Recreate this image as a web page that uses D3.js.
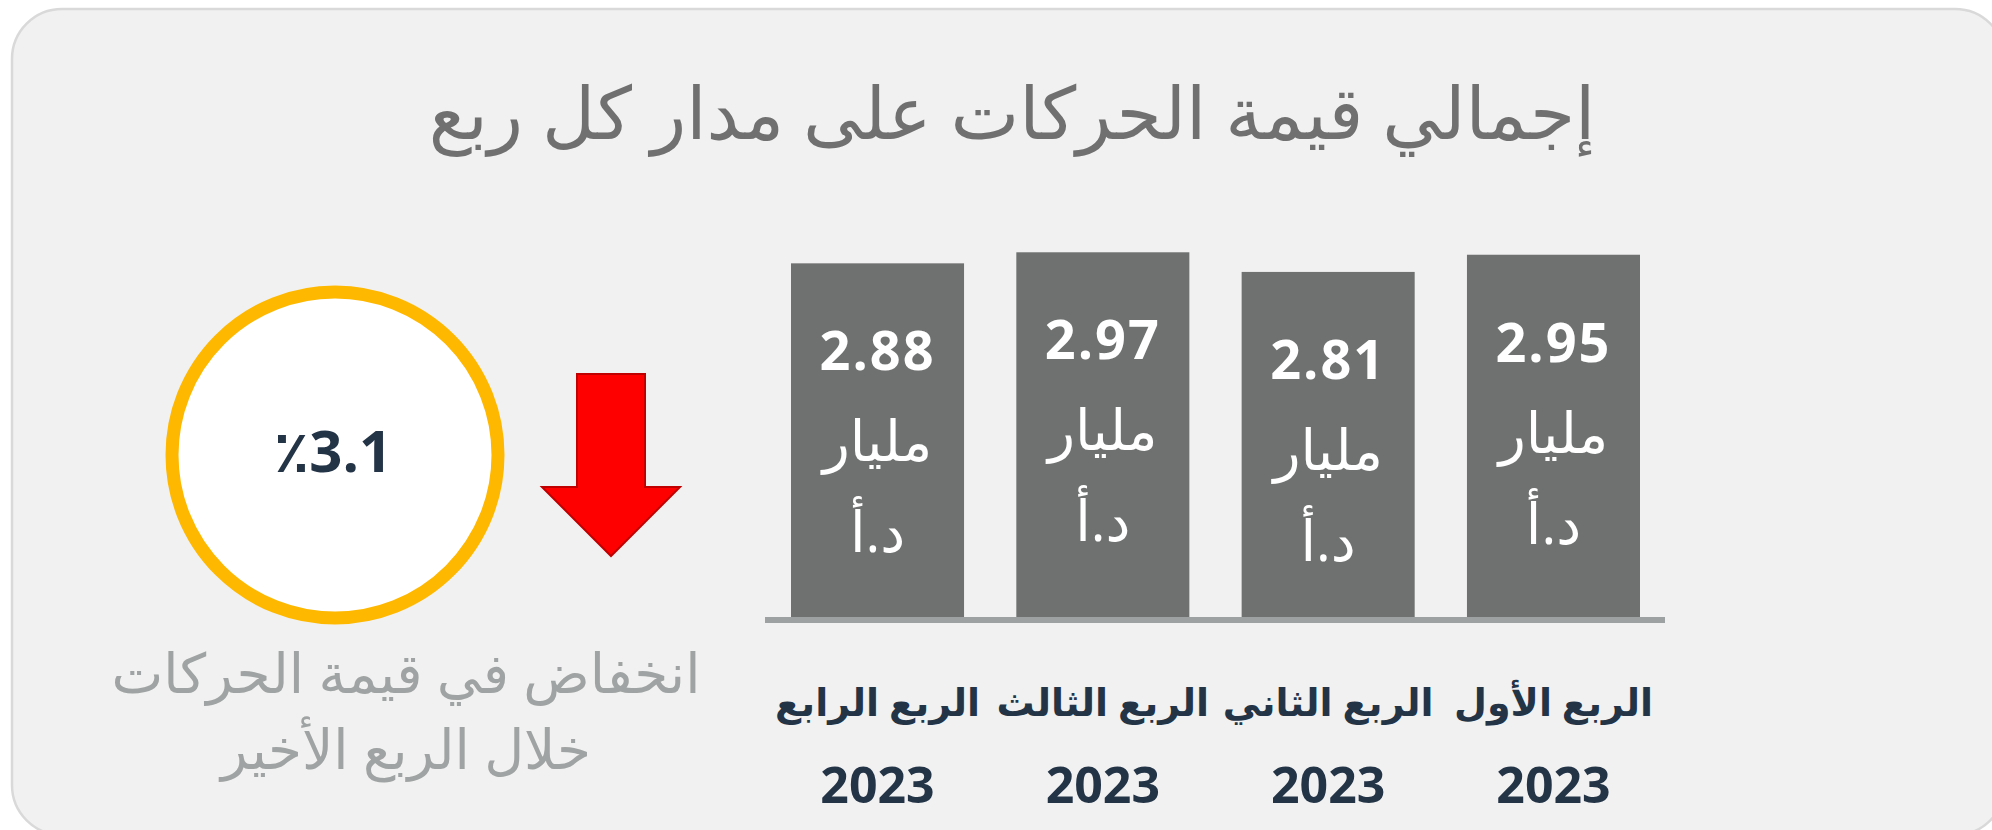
<!DOCTYPE html>
<html lang="ar">
<head>
<meta charset="utf-8">
<script src="https://cdnjs.cloudflare.com/ajax/libs/d3/7.8.5/d3.min.js"></script>
<style>
  html, body { margin: 0; padding: 0; background: #ffffff; }
  svg { display: block; }
  text { font-family: "Open Sans", "DejaVu Sans", sans-serif; }
</style>
</head>
<body>
<script>
// data
var title = "إجمالي قيمة الحركات على مدار كل ربع";
var quarters = ["الربع الأول", "الربع الثاني", "الربع الثالث", "الربع الرابع"];
var years = ["2023", "2023", "2023", "2023"];
var values = [2.95, 2.81, 2.97, 2.88];
var unitLines = ["مليار", "د.أ"];
var changeText = "٪3.1";
var noteLines = ["انخفاض في قيمة الحركات", "خلال الربع الأخير"];

var width = 1992, height = 830;

var svg = d3.select("body").append("svg")
    .attr("width", width)
    .attr("height", height);

// panel
svg.append("rect")
    .attr("x", 12).attr("y", 9)
    .attr("width", 1993).attr("height", 826)
    .attr("rx", 50).attr("ry", 50)
    .style("fill", "#f1f1f1")
    .style("stroke", "#d9d9d9")
    .style("stroke-width", 2.5);

svg.append("text")
    .attr("x", 1012).attr("y", 139)
    .attr("text-anchor", "middle")
    .attr("direction", "rtl")
    .style("font-size", "73px")
    .style("fill", "#707070")
    .text(title);

// scales (right to left)
var x = d3.scaleBand()
    .domain(quarters)
    .range([1640, 791])
    .paddingInner(0.232)
    .paddingOuter(0);

var y = d3.scaleLinear()
    .domain([0, 3])
    .range([617, 248.6]);

var data = quarters.map(function (q, i) {
    return { q: q, year: years[i], v: values[i] };
});

// bars
svg.selectAll(".bar")
    .data(data)
    .enter()
    .append("rect")
    .attr("class", "bar")
    .attr("x", function (d) { return x(d.q); })
    .attr("y", function (d) { return y(d.v); })
    .attr("width", x.bandwidth())
    .attr("height", function (d) { return y(0) - y(d.v); })
    .style("fill", "#6f7170");

// baseline
svg.append("line")
    .attr("x1", 765).attr("x2", 1665)
    .attr("y1", y(0) + 3).attr("y2", y(0) + 3)
    .style("stroke", "#9ea1a1")
    .style("stroke-width", 6);

// labels inside the bars
var inner = svg.selectAll(".inner")
    .data(data)
    .enter()
    .append("g")
    .attr("class", "inner")
    .attr("transform", function (d) {
        return "translate(" + (x(d.q) + x.bandwidth() / 2) + "," + (y(d.v) + 107) + ")";
    });

inner.append("text")
    .attr("text-anchor", "middle")
    .style("font-size", "54px")
    .style("font-weight", 700)
    .style("letter-spacing", "2px")
    .style("fill", "#ffffff")
    .text(function (d) { return d3.format(".2f")(d.v); });

unitLines.forEach(function (t, k) {
    inner.append("text")
        .attr("y", 91 * (k + 1))
        .attr("text-anchor", "middle")
        .attr("direction", "rtl")
        .style("font-size", "56px")
        .style("fill", "#ffffff")
        .text(t);
});

// category labels
var cats = svg.selectAll(".cat")
    .data(data)
    .enter()
    .append("g")
    .attr("class", "cat")
    .attr("transform", function (d) {
        return "translate(" + (x(d.q) + x.bandwidth() / 2) + ",0)";
    });

cats.append("text")
    .attr("y", 716)
    .attr("text-anchor", "middle")
    .attr("direction", "rtl")
    .style("font-size", "38px")
    .style("font-weight", "bold")
    .style("fill", "#243447")
    .text(function (d) { return d.q; });

cats.append("text")
    .attr("y", 803)
    .attr("text-anchor", "middle")
    .style("font-size", "50px")
    .style("font-weight", "bold")
    .style("fill", "#243447")
    .text(function (d) { return d.year; });

// circle with change
svg.append("circle")
    .attr("cx", 335).attr("cy", 455)
    .attr("r", 163)
    .style("fill", "#ffffff")
    .style("stroke", "#ffb800")
    .style("stroke-width", 13);

svg.append("text")
    .attr("x", 333).attr("y", 472)
    .attr("text-anchor", "middle")
    .attr("direction", "ltr")
    .style("font-size", "58px")
    .style("font-weight", "bold")
    .style("fill", "#243447")
    .text(changeText);

// red down arrow
var arrow = [[577, 374], [645, 374], [645, 487], [680, 487], [611, 556], [542, 487], [577, 487]];
svg.append("path")
    .attr("d", d3.line()(arrow) + "Z")
    .style("fill", "#ff0000")
    .style("stroke", "#c00000")
    .style("stroke-width", 2);

// note under the circle
svg.selectAll(".note")
    .data(noteLines)
    .enter()
    .append("text")
    .attr("class", "note")
    .attr("x", 406)
    .attr("y", function (d, i) { return 693 + i * 76; })
    .attr("text-anchor", "middle")
    .attr("direction", "rtl")
    .style("font-size", "55px")
    .style("fill", "#a0a3a3")
    .text(function (d) { return d; });
</script>
</body>
</html>
